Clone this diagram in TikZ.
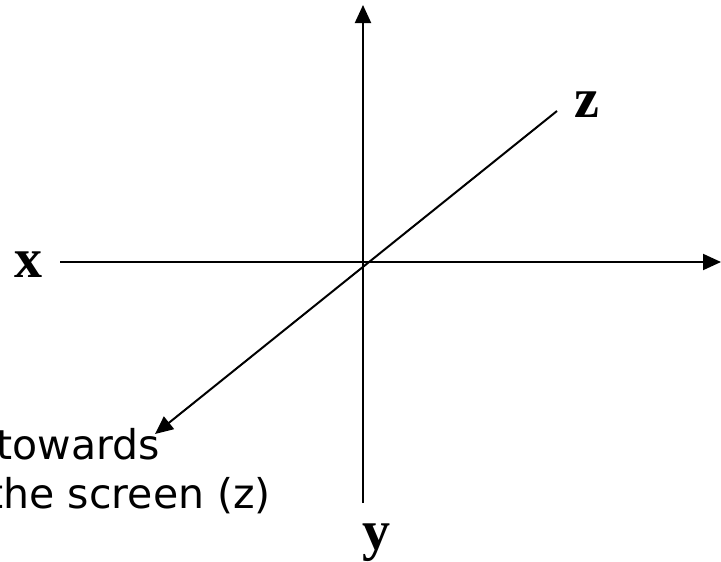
\documentclass[tikz,border=0pt]{standalone}
\usepackage{fontspec}
\setmainfont{Liberation Serif}
\newfontfamily\notefont{DejaVu Sans}
\usetikzlibrary{arrows.meta}
\begin{document}
\begin{tikzpicture}[x=1pt,y=-1pt,
  axis/.style={line width=2pt,-{Triangle[length=18pt,width=16pt]}},
  axlabel/.style={font=\bfseries\fontsize{56}{60}\selectfont,inner sep=0pt,anchor=base west},
  note/.style={font=\notefont\fontsize{41}{49}\selectfont,inner sep=0pt,anchor=base east}]
\useasboundingbox (0,0) rectangle (721,562);
% axis end points
\coordinate (ytop) at (363,5);
\coordinate (ybot) at (363,503);
\coordinate (xleft) at (60,262);
\coordinate (xright) at (721,262);
\coordinate (zfar) at (557,111);
\coordinate (znear) at (155,434);
% axes
\draw[axis] (ybot) -- (ytop);
\draw[axis] (xleft) -- (xright);
\draw[axis] (zfar) -- (znear);
% labels
\node[axlabel] (lx) at (14,277) {x};
\node[axlabel] (lz) at (574,117) {z};
\node[axlabel] (ly) at (362,549) {y};
\node[note] (n1) at (160,459) {towards};
\node[note] (n2) at (271,508) {the screen (z)};
\end{tikzpicture}
\end{document}
